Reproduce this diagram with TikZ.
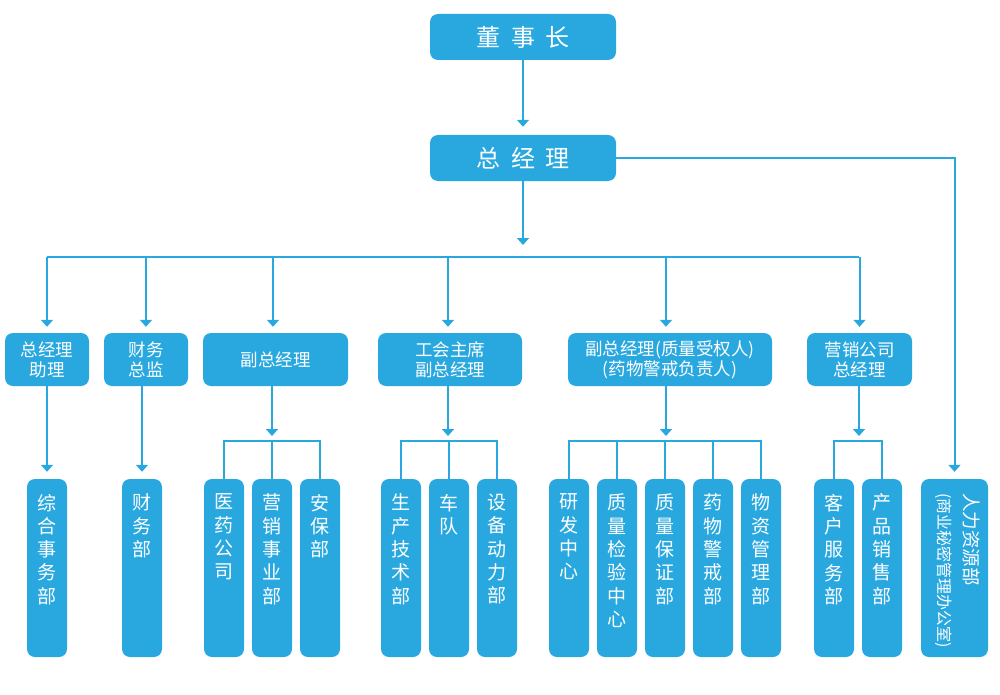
\documentclass[tikz,border=0pt]{standalone}
\usepackage{fontspec}
\setmainfont{Noto Sans CJK SC}
\usetikzlibrary{arrows.meta}
\definecolor{cblue}{HTML}{29A8E0}
\newcommand{\vtxt}[1]{\parbox[c][178pt][t]{40pt}{\fontsize{19pt}{23.3pt}\selectfont\centering\vspace*{15pt}#1}}
\begin{document}
\begin{tikzpicture}[x=1pt,y=-1pt,
  box/.style={fill=cblue, rounded corners=8pt, inner sep=0pt, text=white, align=center},
  top/.style={box, minimum width=186pt, minimum height=46pt, font=\fontsize{24pt}{28pt}\selectfont},
  rtwo/.style={box, minimum height=53pt, font=\fontsize{17.5pt}{20pt}\selectfont},
  rthree/.style={box, minimum width=40pt, minimum height=178pt},
  ln/.style={draw=cblue, line width=2pt},
  arr/.style={draw=cblue, line width=2pt, -{Triangle[width=12pt,length=7pt]}}]
\useasboundingbox (0,0) rectangle (1000,695);

% top
\node[top] (ceo) at (523,37) {董\hspace{11pt}事\hspace{11pt}长};
\node[top] (gm) at (523,158) {总\hspace{11pt}经\hspace{11pt}理};

% row 2
\node[rtwo, minimum width=84pt] (asst) at (47,359.5) {总经理\\助理};
\node[rtwo, minimum width=84pt] (cfo) at (146,359.5) {财务\\总监};
\node[rtwo, minimum width=145pt] (vpa) at (275.5,359.5) {副总经理};
\node[rtwo, minimum width=144pt] (vpb) at (450,359.5) {工会主席\\副总经理};
\node[rtwo, minimum width=204pt] (vpc) at (670,359.5) {副总经理(质量受权人)\\(药物警戒负责人)};
\node[rtwo, minimum width=105pt] (mkt) at (859.5,359.5) {营销公司\\总经理};

% row 3
\node[rthree] (da) at (47,568) {\vtxt{综\\合\\事\\务\\部}};
\node[rthree] (db) at (142,568) {\vtxt{财\\务\\部}};
\node[rthree] (dc) at (224,568) {\vtxt{医\\药\\公\\司}};
\node[rthree] (dd) at (272,568) {\vtxt{营\\销\\事\\业\\部}};
\node[rthree] (de) at (320,568) {\vtxt{安\\保\\部}};
\node[rthree] (df) at (401,568) {\vtxt{生\\产\\技\\术\\部}};
\node[rthree] (dg) at (449,568) {\vtxt{车\\队}};
\node[rthree] (dh) at (497,568) {\vtxt{设\\备\\动\\力\\部}};
\node[rthree] (di) at (569,568) {\vtxt{研\\发\\中\\心}};
\node[rthree] (dj) at (617,568) {\vtxt{质\\量\\检\\验\\中\\心}};
\node[rthree] (dk) at (665,568) {\vtxt{质\\量\\保\\证\\部}};
\node[rthree] (dl) at (713,568) {\vtxt{药\\物\\警\\戒\\部}};
\node[rthree] (dm) at (761,568) {\vtxt{物\\资\\管\\理\\部}};
\node[rthree] (dn) at (834,568) {\vtxt{客\\户\\服\\务\\部}};
\node[rthree] (do) at (882,568) {\vtxt{产\\品\\销\\售\\部}};
\node[box, rotate=-90, minimum width=178pt, minimum height=67pt] (hr) at (954.5,568)
  {\parbox{178pt}{\raggedright\leftskip=14pt\fontsize{18.5pt}{26pt}\selectfont 人力资源部\\\fontsize{16pt}{26pt}\selectfont(商业秘密管理办公室)\par\vspace{7pt}}};

% connectors top
\draw[arr, shorten >=8pt] (ceo) -- (gm);
\coordinate (gmend) at (523,245);
\draw[arr] (gm) -- (gmend);
\coordinate (bl) at (47,257);
\coordinate (br) at (859,257);
\draw[ln] (bl) -- (br);
\draw[arr, shorten >=6pt] (asst.north |- bl) -- (asst.north);
\draw[arr, shorten >=6pt] (cfo.north |- bl) -- (cfo.north);
\draw[arr, shorten >=6pt] ([xshift=-2.5pt]vpa.north |- bl) -- ([xshift=-2.5pt]vpa.north);
\draw[arr, shorten >=6pt] ([xshift=-2pt]vpb.north |- bl) -- ([xshift=-2pt]vpb.north);
\draw[arr, shorten >=6pt] ([xshift=-4pt]vpc.north |- bl) -- ([xshift=-4pt]vpc.north);
\draw[arr, shorten >=6pt] (mkt.north |- bl) -- (mkt.north);
\draw[arr, shorten >=7pt] (gm.east) -| (hr.west);

% single drops
\draw[arr, shorten >=7pt] (asst) -- (da);
\draw[arr, shorten >=7pt] (cfo.south -| db) -- (db.north);

% groups
\coordinate (ga) at (272,441);
\draw[arr, shorten >=5pt] (vpa.south -| ga) -- (ga);
\draw[ln] (dc.north) |- (ga) -| (de.north);
\draw[ln] (dd.north) -- (dd.north |- ga);

\coordinate (gb) at (448,441);
\draw[arr, shorten >=5pt] (vpb.south -| gb) -- (gb);
\draw[ln] (df.north) |- (gb) -| (dh.north);
\draw[ln] (dg.north) -- (dg.north |- gb);

\coordinate (gc) at (666,441);
\draw[arr, shorten >=5pt] (vpc.south -| gc) -- (gc);
\draw[ln] (di.north) |- (gc) -| (dm.north);
\draw[ln] (dj.north) -- (dj.north |- gc);
\draw[ln] (dk.north) -- (dk.north |- gc);
\draw[ln] (dl.north) -- (dl.north |- gc);

\coordinate (gd) at (859,441);
\draw[arr, shorten >=5pt] (mkt.south -| gd) -- (gd);
\draw[ln] (dn.north) |- (gd) -| (do.north);
\end{tikzpicture}
\end{document}
